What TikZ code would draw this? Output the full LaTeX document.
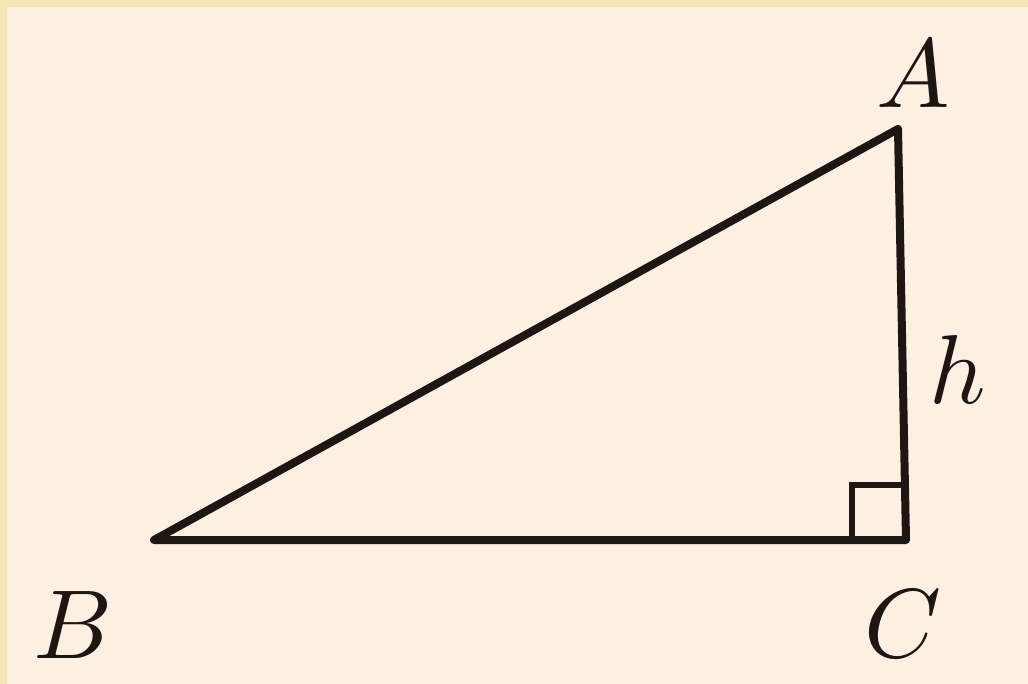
\documentclass[tikz,border=0pt]{standalone}
\usepackage{tikz}
\definecolor{bgcol}{HTML}{FDF0E2}
\definecolor{bordercol}{HTML}{F7E6B5}
\definecolor{inkcol}{HTML}{1E1612}
\tikzset{
  side/.style={draw=inkcol, line width=8pt, line join=round, line cap=round},
  rmark/.style={draw=inkcol, line width=6pt},
  lbl/.style={inner sep=0pt, outer sep=0pt, text=inkcol, scale=9.8}
}
\begin{document}
\begin{tikzpicture}[x=1pt,y=-1pt]
\useasboundingbox (0,0) rectangle (1028,684);
\fill[bordercol] (0,0) rectangle (1028,684);
\fill[bgcol] (7,7) rectangle (1028,684);
\coordinate (B) at (154,540);
\coordinate (C) at (906,540);
\coordinate (A) at (898,129);
\coordinate (Q1) at (852,540);
\coordinate (Q2) at (852,485);
\coordinate (Q3) at (906,485);
\draw[side] (B) -- (C) -- (A) -- cycle;
\draw[rmark] (Q1) -- (Q2) -- (Q3);
\node[lbl] (la) at (913,74) {$A$};
\node[lbl] (lb) at (73,625) {$B$};
\node[lbl] (lc) at (903,624) {$C$};
\node[lbl] (lh) at (958,369) {$h$};
\end{tikzpicture}
\end{document}
